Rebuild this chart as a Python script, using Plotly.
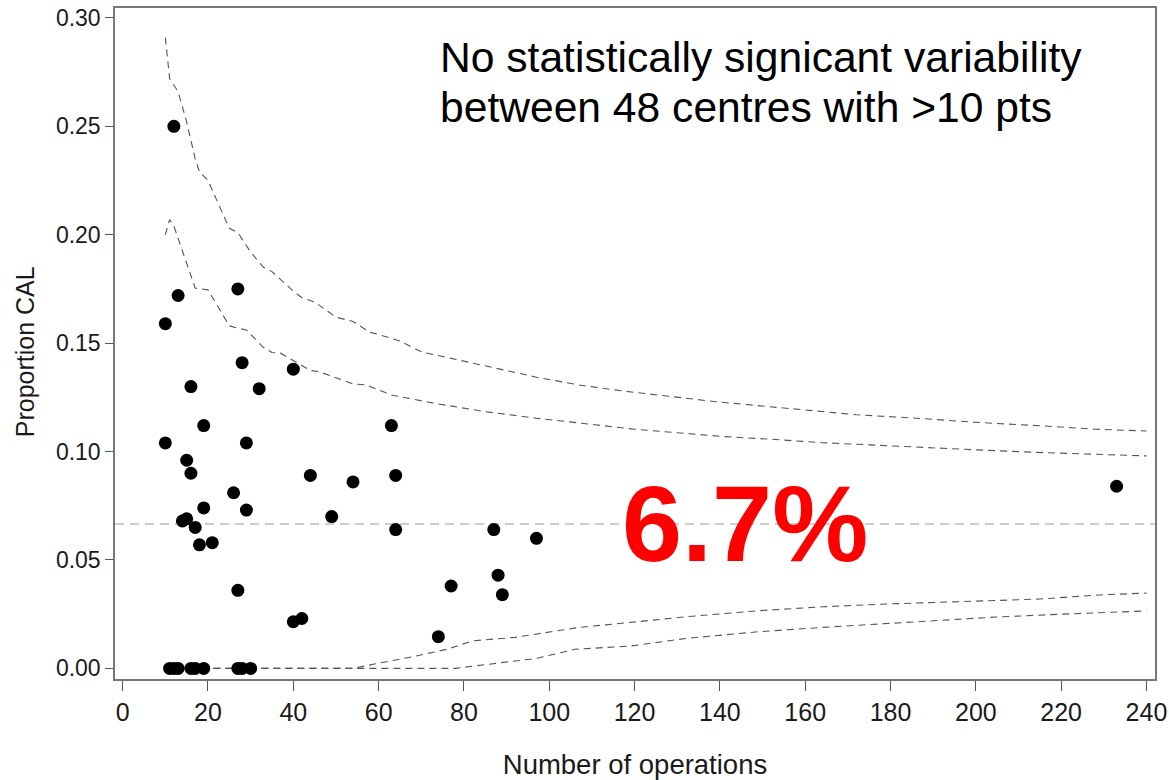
import plotly.graph_objects as go

# Centre data: number of operations and proportion CAL
ops = [11, 12, 13, 16, 17, 19, 27, 28, 30,
       12, 13, 10, 27,
       10, 16, 19, 15, 16, 19, 14, 15, 17, 18, 21, 28, 32, 29, 26, 29, 27,
       40, 63, 44, 54, 64, 49, 64, 87, 97, 88, 77, 89, 40, 42, 74,
       233]
prop = [0.0, 0.0, 0.0, 0.0, 0.0, 0.0, 0.0, 0.0, 0.0,
        0.250, 0.172, 0.159, 0.175,
        0.104, 0.130, 0.112, 0.096, 0.090, 0.074, 0.068, 0.069, 0.065, 0.057, 0.058,
        0.141, 0.129, 0.104, 0.081, 0.073, 0.036,
        0.138, 0.112, 0.089, 0.086, 0.089, 0.070, 0.064, 0.064, 0.060, 0.043,
        0.038, 0.034, 0.0215, 0.023, 0.0146,
        0.084]

overall_mean = 0.0666

# Funnel limits
up998_n = [10, 11, 12, 13, 15, 17, 18, 20, 25, 27, 30, 33, 35, 40, 42, 45, 50, 54, 58, 60,
           65, 70, 77, 87, 97, 107, 117, 129, 139, 150, 161, 172, 186, 200, 216, 228, 240]
up998_p = [0.291, 0.272, 0.269, 0.266, 0.252, 0.235, 0.229, 0.225, 0.203, 0.201, 0.192,
           0.185, 0.183, 0.174, 0.171, 0.169, 0.162, 0.160, 0.155, 0.154, 0.151, 0.146,
           0.143, 0.1385, 0.1343, 0.1307, 0.128, 0.1253, 0.123, 0.121, 0.119, 0.117,
           0.1154, 0.1135, 0.1118, 0.1103, 0.1095]

up95_n = [10, 11, 12, 15, 17, 20, 25, 27, 29, 33, 35, 37, 44, 46, 54, 57, 63, 73, 85, 97,
          109, 120, 130, 141, 152, 164, 175, 186, 200, 216, 231, 240]
up95_p = [0.200, 0.207, 0.204, 0.187, 0.1754, 0.1746, 0.158, 0.1569, 0.1561, 0.148,
          0.1457, 0.1454, 0.1374, 0.1369, 0.1312, 0.1308, 0.1261, 0.1223, 0.1184, 0.1154,
          0.1126, 0.1103, 0.1087, 0.1069, 0.1057, 0.1041, 0.1031, 0.1020, 0.1008,
          0.0995, 0.0984, 0.0980]

lo95_n = [10, 54, 59, 68, 76, 82, 92, 99, 107, 117, 132, 149, 164, 179, 187, 200, 215, 230, 240]
lo95_p = [0.0, 0.0, 0.002, 0.0054, 0.0088, 0.0127, 0.0143, 0.0164, 0.0189, 0.0208, 0.0238,
          0.0266, 0.0284, 0.0297, 0.0303, 0.031, 0.032, 0.034, 0.0347]

lo998_n = [10, 78, 80, 88, 97, 106, 119, 132, 149, 164, 187, 205, 220, 240]
lo998_p = [0.0, 0.0, 0.0005, 0.0023, 0.0046, 0.0088, 0.0103, 0.0138, 0.0169, 0.0189,
           0.0215, 0.0237, 0.025, 0.0265]

x_ticks = list(range(0, 241, 20))
y_ticks = [0.00, 0.05, 0.10, 0.15, 0.20, 0.25, 0.30]

note_lines = ["No statistically signicant variability", "between 48 centres with >10 pts"]

FONT = "Liberation Sans, Arial"

fig = go.Figure()

line_style = dict(color="#555555", width=1.1, dash="7px,5px")
for nx, py in [(up998_n, up998_p), (up95_n, up95_p), (lo95_n, lo95_p), (lo998_n, lo998_p)]:
    fig.add_trace(go.Scatter(x=nx, y=py, mode="lines", line=line_style,
                             hoverinfo="skip", showlegend=False))

fig.add_shape(type="line", xref="paper", x0=0, x1=1, yref="y",
              y0=overall_mean, y1=overall_mean,
              line=dict(color="#9a9a9a", width=1, dash="9px,6px"), layer="below")

fig.add_trace(go.Scatter(x=ops, y=prop, mode="markers",
                         marker=dict(color="black", size=13),
                         showlegend=False))

# two-line note, line centres at ~57 px and ~107 px from the top
for i, txt in enumerate(note_lines):
    fig.add_annotation(x=0.311, y=(679 - (57 + 50 * i)) / 671, xref="paper", yref="paper",
                       xanchor="left", yanchor="middle", text=txt, showarrow=False,
                       font=dict(family=FONT, size=42.6, color="black"))

fig.add_annotation(x=146, y=overall_mean, xref="x", yref="y", xanchor="center", yanchor="middle",
                   text="<b>6.7%</b>", showarrow=False,
                   font=dict(family=FONT, size=108, color="#ff0000"))

# y-axis title placed slightly below centre, as in the reference
fig.add_annotation(x=-0.0865, y=0.487, xref="paper", yref="paper", xanchor="center",
                   yanchor="middle", text="Proportion CAL", textangle=-90, showarrow=False,
                   font=dict(family=FONT, size=25, color="#1a1a1a"))

fig.update_layout(
    width=1169, height=780,
    margin=dict(l=115, r=14, t=8, b=101),
    paper_bgcolor="white", plot_bgcolor="white",
    font=dict(family=FONT, color="#1a1a1a"),
    xaxis=dict(range=[-1.8, 242], tickvals=x_ticks, ticks="outside", ticklen=10,
               tickcolor="#555555", showline=True, linecolor="#777777", linewidth=1.5,
               mirror=True, showgrid=False, zeroline=False, automargin=False,
               tickfont=dict(size=25),
               title=dict(text="Number of operations", font=dict(size=27.5), standoff=30)),
    yaxis=dict(range=[-0.0049, 0.3046], tickvals=y_ticks, tickformat=".2f",
               ticks="outside", ticklen=8, tickcolor="#555555",
               showline=True, linecolor="#777777", linewidth=1.5, mirror=True,
               showgrid=False, zeroline=False, automargin=False,
               tickfont=dict(size=23)),
)

fig.write_html("out.html", config={"displayModeBar": False},
               post_script="document.body.style.margin='0';document.body.style.padding='0';"
                           "document.body.style.overflow='hidden';")
